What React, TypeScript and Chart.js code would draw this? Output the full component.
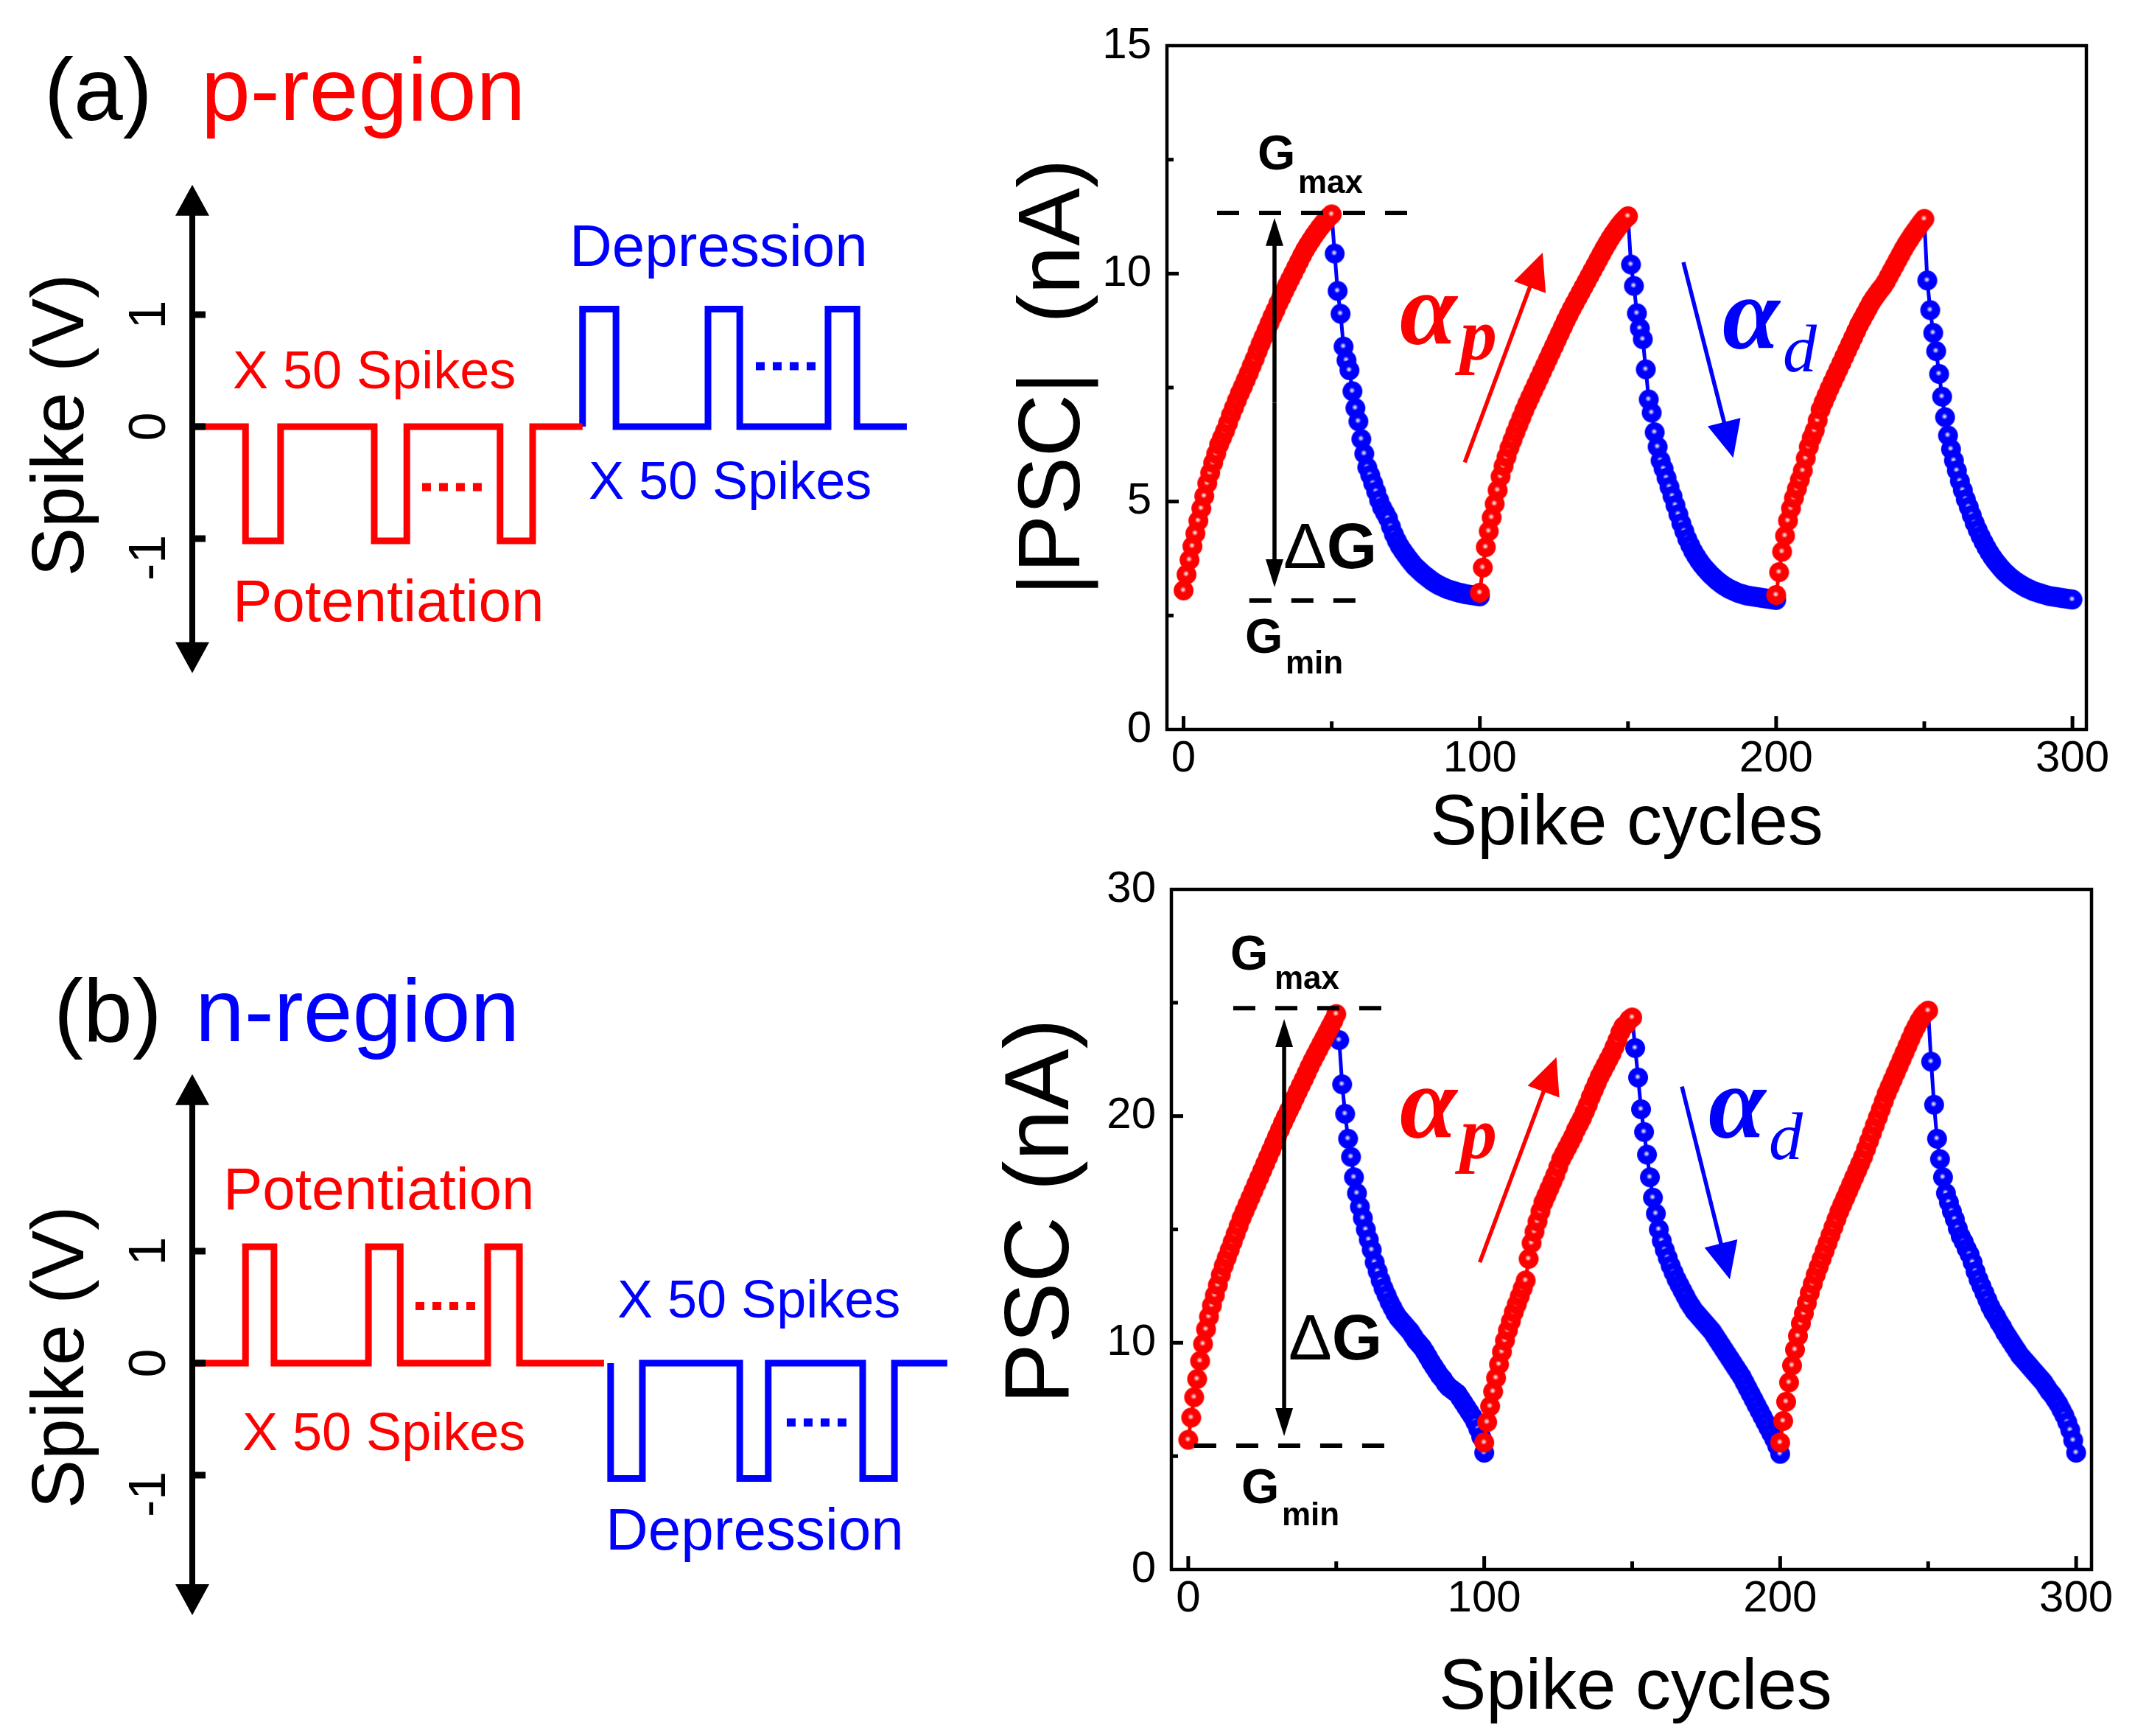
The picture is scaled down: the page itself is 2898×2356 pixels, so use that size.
import React, { useEffect, useRef } from 'react';
import { Chart, registerables } from 'chart.js';

Chart.register(...registerables);

const SANS = "'Liberation Sans', Arial, Helvetica, sans-serif";
const SERIF = "'Liberation Serif', 'Times New Roman', serif";
const RED = '#ff0000';
const BLUE = '#0000ff';

// ---------------- data: PSC vs spike cycles ----------------
const cycleStartX = [0, 50, 100, 150, 200, 250];

// p-region |PSC| (nA)
const pPot1 = [3.05,3.40,3.72,4.02,4.30,4.58,4.85,5.12,5.40,5.63,5.85,6.05,6.25,6.40,6.55,6.72,6.90,7.06,7.22,7.38,7.52,7.67,7.82,7.98,8.13,8.30,8.46,8.61,8.76,8.91,9.06,9.20,9.35,9.48,9.62,9.75,9.88,10.01,10.14,10.27,10.40,10.52,10.63,10.73,10.83,10.92,11.01,11.09,11.17,11.24,11.30];
const pDep1 = [11.30,10.44,9.62,9.12,8.40,8.10,7.88,7.42,7.05,6.76,6.37,6.05,5.75,5.58,5.40,5.22,5.03,4.87,4.75,4.63,4.45,4.28,4.14,4.02,3.92,3.83,3.74,3.66,3.58,3.52,3.46,3.40,3.35,3.30,3.25,3.21,3.17,3.14,3.11,3.08,3.06,3.04,3.02,3.00,2.99,2.97,2.96,2.95,2.94,2.93,2.92];
const pPot2 = [3.00,3.55,4.00,4.35,4.65,4.95,5.25,5.55,5.78,5.98,6.18,6.35,6.52,6.68,6.84,7.00,7.15,7.29,7.43,7.57,7.71,7.85,7.99,8.13,8.27,8.41,8.55,8.69,8.83,8.97,9.10,9.23,9.35,9.47,9.59,9.71,9.83,9.95,10.07,10.19,10.31,10.43,10.55,10.66,10.77,10.87,10.96,11.05,11.13,11.20,11.26];
const pDep2 = [11.26,10.20,9.73,9.13,8.80,8.56,7.90,7.24,6.95,6.52,6.20,5.90,5.72,5.52,5.32,5.12,4.92,4.72,4.52,4.35,4.18,4.04,3.91,3.80,3.70,3.61,3.53,3.46,3.39,3.33,3.27,3.22,3.17,3.13,3.09,3.06,3.03,3.00,2.98,2.96,2.94,2.93,2.92,2.91,2.90,2.89,2.88,2.87,2.86,2.85,2.84];
const pPot3 = [2.95,3.45,3.90,4.25,4.58,4.85,5.08,5.28,5.48,5.68,5.95,6.20,6.40,6.56,6.78,7.02,7.18,7.33,7.48,7.62,7.76,7.90,8.04,8.18,8.32,8.46,8.60,8.74,8.88,9.00,9.12,9.24,9.36,9.46,9.55,9.64,9.72,9.82,9.94,10.06,10.18,10.30,10.42,10.54,10.65,10.75,10.85,10.94,11.03,11.12,11.20];
const pDep3 = [11.20,9.85,9.20,8.70,8.30,7.80,7.30,6.85,6.45,6.15,5.90,5.68,5.45,5.25,5.05,4.88,4.70,4.53,4.38,4.24,4.11,3.99,3.88,3.78,3.69,3.61,3.53,3.46,3.40,3.34,3.29,3.24,3.20,3.16,3.12,3.09,3.06,3.03,3.01,2.99,2.97,2.95,2.93,2.92,2.91,2.90,2.89,2.88,2.87,2.86,2.85];

// n-region PSC (nA)
const nPot1 = [5.72,6.70,7.60,8.40,9.20,9.95,10.60,11.15,11.65,12.10,12.55,13.00,13.40,13.75,14.10,14.45,14.80,15.15,15.50,15.80,16.10,16.40,16.70,17.00,17.30,17.60,17.90,18.20,18.50,18.80,19.10,19.40,19.70,19.98,20.25,20.52,20.80,21.08,21.35,21.62,21.90,22.18,22.45,22.70,22.95,23.20,23.45,23.70,23.95,24.20,24.50];
const nDep1 = [24.50,23.35,21.40,20.10,19.00,18.20,17.30,16.60,16.00,15.50,15.00,14.55,14.10,13.55,13.15,12.75,12.40,12.10,11.80,11.55,11.30,11.10,10.95,10.80,10.65,10.50,10.30,10.10,9.95,9.80,9.60,9.38,9.15,8.95,8.75,8.55,8.40,8.20,8.05,7.95,7.85,7.75,7.55,7.35,7.15,6.95,6.75,6.50,6.20,5.85,5.15];
const nPot2 = [5.60,6.50,7.20,7.85,8.45,9.05,9.60,10.10,10.55,10.95,11.35,11.70,12.05,12.40,12.75,13.70,14.40,14.90,15.35,15.80,16.20,16.50,16.80,17.10,17.40,17.75,18.10,18.35,18.60,18.85,19.10,19.40,19.65,19.90,20.20,20.50,20.85,21.15,21.45,21.75,22.00,22.25,22.50,22.75,23.05,23.35,23.70,23.95,24.05,24.25,24.35];
const nDep2 = [24.35,23.00,21.70,20.30,19.30,18.30,17.30,16.40,15.70,15.00,14.50,14.10,13.75,13.40,13.10,12.80,12.55,12.30,12.05,11.80,11.60,11.40,11.25,11.10,10.95,10.80,10.65,10.50,10.30,10.10,9.90,9.70,9.50,9.30,9.10,8.90,8.70,8.50,8.25,8.00,7.75,7.50,7.25,7.00,6.75,6.50,6.25,6.00,5.75,5.45,5.10];
const nPot3 = [5.60,6.55,7.40,8.25,9.00,9.70,10.30,10.85,11.30,11.75,12.20,12.60,13.00,13.35,13.70,14.05,14.40,14.75,15.10,15.45,15.80,16.10,16.40,16.70,17.00,17.30,17.60,17.90,18.20,18.55,18.90,19.25,19.60,19.95,20.30,20.65,21.00,21.30,21.60,21.90,22.20,22.50,22.80,23.10,23.40,23.70,23.95,24.20,24.40,24.55,24.65];
const nDep3 = [24.65,22.40,20.50,19.00,18.10,17.30,16.60,16.20,15.80,15.45,15.05,14.70,14.45,14.15,13.90,13.55,13.15,12.80,12.50,12.20,11.90,11.60,11.35,11.15,10.90,10.70,10.45,10.25,10.05,9.85,9.65,9.45,9.30,9.15,9.00,8.85,8.70,8.55,8.40,8.25,8.05,7.85,7.70,7.50,7.30,7.05,6.80,6.50,6.15,5.70,5.15];

const xTickLabels = ['0', '100', '200', '300'];
const pYTickLabels = ['0', '5', '10', '15'];
const nYTickLabels = ['0', '10', '20', '30'];

// ---------------- data: spike waveforms (time a.u., volts) ----------------
const pRedT = [0.07, 1.29, 1.29, 2.14, 2.14, 4.41, 4.41, 5.20, 5.20, 7.46, 7.46, 8.25, 8.25, 9.46];
const pRedV = [0, 0, -1.02, -1.02, 0, 0, -1.02, -1.02, 0, 0, -1.02, -1.02, 0, 0];
const pBlueT = [9.46, 9.46, 10.27, 10.27, 12.50, 12.50, 13.27, 13.27, 15.41, 15.41, 16.11, 16.11, 17.32];
const pBlueV = [0, 1.05, 1.05, 0, 0, 1.05, 1.05, 0, 0, 1.05, 1.05, 0, 0];
const nRedT = [0.07, 1.29, 1.29, 1.98, 1.98, 4.27, 4.27, 5.04, 5.04, 7.16, 7.16, 7.93, 7.93, 9.98];
const nRedV = [0, 0, 1.04, 1.04, 0, 0, 1.04, 1.04, 0, 0, 1.04, 1.04, 0, 0];
const nBlueT = [10.14, 10.14, 10.91, 10.91, 13.27, 13.27, 13.96, 13.96, 16.25, 16.25, 17.02, 17.02, 18.30];
const nBlueV = [0, -1.03, -1.03, 0, 0, -1.03, -1.03, 0, 0, -1.03, -1.03, 0, 0];
const spikeTickValues = [1, 0, -1];
const spikeTickLabels = ['1', '0', '-1'];

// ---------------- helpers ----------------
function makeBall(color: string, light: string, r: number) {
  const s = Math.ceil(r * 2 + 2);
  const c = document.createElement('canvas');
  c.width = s; c.height = s;
  const g = c.getContext('2d') as CanvasRenderingContext2D;
  const cx = s / 2, cy = s / 2;
  g.fillStyle = color;
  g.beginPath(); g.arc(cx, cy, r, 0, Math.PI * 2); g.fill();
  const grad = g.createRadialGradient(cx - r * 0.05, cy - r * 0.08, 0, cx - r * 0.05, cy - r * 0.08, r * 0.32);
  grad.addColorStop(0, '#ffffff');
  grad.addColorStop(0.35, light);
  grad.addColorStop(1, color);
  g.fillStyle = grad;
  g.beginPath(); g.arc(cx - r * 0.05, cy - r * 0.08, r * 0.32, 0, Math.PI * 2); g.fill();
  return c;
}

function drawArrow(ctx: any, x1: number, y1: number, x2: number, y2: number, head: number, half: number, lw: number, color: string) {
  const ang = Math.atan2(y2 - y1, x2 - x1);
  const bx = x2 - head * Math.cos(ang), by = y2 - head * Math.sin(ang);
  ctx.strokeStyle = color; ctx.lineWidth = lw; ctx.lineCap = 'butt';
  ctx.beginPath(); ctx.moveTo(x1, y1); ctx.lineTo(bx + 2 * Math.cos(ang), by + 2 * Math.sin(ang)); ctx.stroke();
  ctx.fillStyle = color; ctx.beginPath(); ctx.moveTo(x2, y2);
  ctx.lineTo(bx + half * Math.sin(ang), by - half * Math.cos(ang));
  ctx.lineTo(bx - half * Math.sin(ang), by + half * Math.cos(ang));
  ctx.closePath(); ctx.fill();
}

type TextItem = { s: string; x: number; y: number; font: string; color: string; align?: string; rot?: boolean };

function drawTexts(ctx: any, texts: TextItem[], offX: number, offY: number) {
  texts.forEach((t) => {
    ctx.save();
    ctx.font = t.font; ctx.fillStyle = t.color;
    ctx.textAlign = t.align || 'left';
    ctx.textBaseline = 'alphabetic';
    if (t.rot) {
      ctx.translate(t.x - offX, t.y - offY);
      ctx.rotate(-Math.PI / 2);
      ctx.textAlign = 'center';
      ctx.fillText(t.s, 0, 0);
    } else {
      ctx.fillText(t.s, t.x - offX, t.y - offY);
    }
    ctx.restore();
  });
}

const toPts = (start: number, vals: number[]) => vals.map((v, i) => ({ x: start + i, y: v }));

function makePscChart(canvas: HTMLCanvasElement, cfg: any) {
  const redBall = makeBall(RED, '#ffb0b0', 13.5);
  const blueBall = makeBall(BLUE, '#b0b0ff', 13.5);
  const datasets: any[] = [];
  cfg.segments.forEach((vals: number[], k: number) => {
    const isDep = k % 2 === 1;
    datasets.push({
      data: toPts(cycleStartX[k], vals),
      borderColor: isDep ? BLUE : RED,
      backgroundColor: isDep ? BLUE : RED,
      borderWidth: 5,
      pointStyle: isDep ? blueBall : redBall,
      pointRadius: vals.map((_, i) => (isDep && i === 0 ? 0 : 13)),
      tension: 0,
      order: isDep ? 1 : 0,
    });
  });

  const decor = {
    id: 'pscDecor',
    afterDatasetsDraw(chart: any) {
      const ctx = chart.ctx;
      const a = chart.chartArea;
      const xs = chart.scales.x, ys = chart.scales.y;
      const ann = cfg.ann;
      ctx.save();
      // annotations
      ctx.strokeStyle = '#000'; ctx.lineWidth = 6; ctx.setLineDash([30, 27]);
      [[ann.gmaxY, ann.gmaxX], [ann.gminY, ann.gminX]].forEach(([yv, xr]: any) => {
        const y = ys.getPixelForValue(yv);
        ctx.beginPath(); ctx.moveTo(xs.getPixelForValue(xr[0]), y); ctx.lineTo(xs.getPixelForValue(xr[1]), y); ctx.stroke();
      });
      ctx.setLineDash([]);
      const dx = xs.getPixelForValue(ann.dblX);
      const dTop = ys.getPixelForValue(ann.dblTop), dBot = ys.getPixelForValue(ann.dblBot);
      const mid = (dTop + dBot) / 2;
      drawArrow(ctx, dx, mid, dx, dTop, 38, 12, 5.5, '#000');
      drawArrow(ctx, dx, mid, dx, dBot, 38, 12, 5.5, '#000');
      const ra = ann.redArrow, ba = ann.blueArrow;
      drawArrow(ctx, xs.getPixelForValue(ra[0]), ys.getPixelForValue(ra[1]), xs.getPixelForValue(ra[2]), ys.getPixelForValue(ra[3]), 50, 23, 5.5, RED);
      drawArrow(ctx, xs.getPixelForValue(ba[0]), ys.getPixelForValue(ba[1]), xs.getPixelForValue(ba[2]), ys.getPixelForValue(ba[3]), 50, 23, 5.5, BLUE);
      // frame
      ctx.strokeStyle = '#000'; ctx.lineWidth = 4.5;
      ctx.strokeRect(a.left, a.top, a.right - a.left, a.bottom - a.top);
      // inward ticks
      ctx.lineWidth = 5;
      ys.ticks.forEach((t: any) => {
        if (t.value <= ys.min || t.value >= ys.max) return;
        const p = ys.getPixelForValue(t.value);
        const len = t.value % cfg.yLabelStep === 0 ? 16 : 9;
        ctx.beginPath(); ctx.moveTo(a.left, p); ctx.lineTo(a.left + len, p); ctx.stroke();
      });
      xs.ticks.forEach((t: any) => {
        const p = xs.getPixelForValue(t.value);
        const len = t.value % 100 === 0 ? 18 : 11;
        ctx.beginPath(); ctx.moveTo(p, a.bottom); ctx.lineTo(p, a.bottom - len); ctx.stroke();
      });
      // texts
      drawTexts(ctx, cfg.texts, cfg.offX, cfg.offY);
      // delta G (regular delta, bold G)
      ctx.fillStyle = '#000'; ctx.textBaseline = 'alphabetic'; ctx.textAlign = 'left';
      ctx.font = `88px ${SANS}`;
      const dgx = cfg.dG[0] - cfg.offX, dgy = cfg.dG[1] - cfg.offY;
      ctx.fillText('\u0394', dgx, dgy);
      const w = ctx.measureText('\u0394').width;
      ctx.font = `bold 88px ${SANS}`;
      ctx.fillText('G', dgx + w, dgy);
      ctx.restore();
    },
  };

  return new Chart(canvas, {
    type: 'line',
    data: { datasets },
    options: {
      animation: false,
      responsive: false,
      devicePixelRatio: 1,
      events: [],
      layout: { padding: { left: 0, right: cfg.padR, top: cfg.padT, bottom: 0 } },
      plugins: { legend: { display: false }, tooltip: { enabled: false } },
      scales: {
        x: {
          type: 'linear', min: cfg.xMin, max: cfg.xMax,
          afterFit: (s: any) => { s.height = cfg.xH; },
          grid: { display: false, drawTicks: false }, border: { display: false },
          ticks: {
            stepSize: 50, includeBounds: false, autoSkip: false, maxRotation: 0, minRotation: 0, padding: 4,
            color: '#000', font: { family: SANS, size: 60 },
            callback: (v: any) => { const i = xTickLabels.indexOf(String(v)); return i >= 0 ? xTickLabels[i] : ''; },
          },
        },
        y: {
          type: 'linear', min: 0, max: cfg.yMax,
          afterFit: (s: any) => { s.width = cfg.yW; },
          grid: { display: false, drawTicks: false }, border: { display: false },
          ticks: {
            stepSize: cfg.yStep, autoSkip: false, padding: 21,
            color: '#000', font: { family: SANS, size: 60 },
            callback: (v: any) => { const i = cfg.yLabels.indexOf(String(v)); return i >= 0 ? cfg.yLabels[i] : ''; },
          },
        },
      },
    } as any,
    plugins: [decor as any],
  });
}

function makePulseChart(canvas: HTMLCanvasElement, cfg: any) {
  const decor = {
    id: 'pulseDecor',
    afterDatasetsDraw(chart: any) {
      const ctx = chart.ctx;
      const xs = chart.scales.x, ys = chart.scales.y;
      ctx.save();
      const ax = xs.getPixelForValue(0);
      const yTop = ys.getPixelForValue(cfg.axisTop), yBot = ys.getPixelForValue(cfg.axisBottom);
      const midY = ys.getPixelForValue(0);
      drawArrow(ctx, ax, midY, ax, yTop, 42, 23, 8, '#000');
      drawArrow(ctx, ax, midY, ax, yBot, 42, 23, 8, '#000');
      ctx.strokeStyle = '#000'; ctx.lineWidth = 9;
      spikeTickValues.forEach((v, i) => {
        const p = ys.getPixelForValue(v);
        ctx.beginPath(); ctx.moveTo(ax - 4, p); ctx.lineTo(ax + 18, p); ctx.stroke();
        ctx.save();
        ctx.font = `70px ${SANS}`; ctx.fillStyle = '#000';
        ctx.textAlign = 'center'; ctx.textBaseline = 'middle';
        ctx.translate(205, p + (v < 0 ? 26 : 0));
        ctx.rotate(-Math.PI / 2);
        ctx.fillText(spikeTickLabels[i], 0, 0);
        ctx.restore();
      });
      // "...." markers
      cfg.dots.forEach((d: any) => {
        const x0 = xs.getPixelForValue(d.t), y0 = ys.getPixelForValue(d.v);
        ctx.fillStyle = d.color;
        for (let k = 0; k < 4; k++) ctx.fillRect(x0 + k * 23, y0 - 5.5, 12, 11);
      });
      drawTexts(ctx, cfg.texts, 0, cfg.offY);
      ctx.restore();
    },
  };
  const datasets = cfg.waves.map((w: any) => ({
    data: w.t.map((t: number, i: number) => ({ x: t, y: w.v[i] })),
    borderColor: w.color, borderWidth: 9, pointRadius: 0, tension: 0,
    borderJoinStyle: 'miter', borderCapStyle: 'butt', fill: false,
  }));
  return new Chart(canvas, {
    type: 'line',
    data: { datasets },
    options: {
      animation: false, responsive: false, devicePixelRatio: 1, events: [],
      layout: { padding: { left: 261, right: 3, top: cfg.padT, bottom: cfg.padB } },
      plugins: { legend: { display: false }, tooltip: { enabled: false } },
      scales: {
        x: { type: 'linear', display: false, min: 0, max: 18.5 },
        y: { type: 'linear', display: false, min: cfg.yMin, max: cfg.yMax },
      },
    } as any,
    plugins: [decor as any],
  });
}

const f = (px: number, extra = '') => `${extra} ${px}px ${SANS}`.trim();

export default function App() {
  const tl = useRef<HTMLCanvasElement>(null);
  const bl = useRef<HTMLCanvasElement>(null);
  const tr = useRef<HTMLCanvasElement>(null);
  const br = useRef<HTMLCanvasElement>(null);

  useEffect(() => {
    const charts: Chart[] = [];
    charts.push(makePulseChart(tl.current as HTMLCanvasElement, {
      offY: 0, yMin: -2.3, yMax: 2.3, padT: 229.4, padB: 221.4, axisTop: 2.16, axisBottom: -2.2,
      waves: [{ t: pRedT, v: pRedV, color: RED }, { t: pBlueT, v: pBlueV, color: BLUE }],
      dots: [{ t: 5.57, v: -0.54, color: RED }, { t: 13.66, v: 0.54, color: BLUE }],
      texts: [
        { s: '(a)', x: 60, y: 163, font: f(120), color: '#000' },
        { s: 'p-region', x: 273, y: 163, font: f(120), color: RED },
        { s: 'Spike (V)', x: 113, y: 577, font: f(100), color: '#000', rot: true },
        { s: 'X 50 Spikes', x: 316, y: 527, font: f(72), color: RED },
        { s: 'Potentiation', x: 316, y: 843, font: f(80), color: RED },
        { s: 'Depression', x: 773, y: 361, font: f(80), color: BLUE },
        { s: 'X 50 Spikes', x: 799, y: 677, font: f(72), color: BLUE },
      ],
    }));
    charts.push(makePulseChart(bl.current as HTMLCanvasElement, {
      offY: 1150, yMin: -2.4, yMax: 2.7, padT: 289.6, padB: 141.2, axisTop: 2.58, axisBottom: -2.25,
      waves: [{ t: nRedT, v: nRedV, color: RED }, { t: nBlueT, v: nBlueV, color: BLUE }],
      dots: [{ t: 5.41, v: 0.51, color: RED }, { t: 14.41, v: -0.53, color: BLUE }],
      texts: [
        { s: '(b)', x: 73, y: 1413, font: f(120), color: '#000' },
        { s: 'n-region', x: 265, y: 1413, font: f(120), color: BLUE },
        { s: 'Spike (V)', x: 113, y: 1842, font: f(100), color: '#000', rot: true },
        { s: 'Potentiation', x: 303, y: 1641, font: f(80), color: RED },
        { s: 'X 50 Spikes', x: 329, y: 1968, font: f(72), color: RED },
        { s: 'X 50 Spikes', x: 838, y: 1788, font: f(72), color: BLUE },
        { s: 'Depression', x: 822, y: 2103, font: f(80), color: BLUE },
      ],
    }));
    charts.push(makePscChart(tr.current as HTMLCanvasElement, {
      offX: 1300, offY: 0, padR: 66, padT: 62, xH: 200, yW: 284,
      xMin: -5.6, xMax: 304.7, yMax: 15, yStep: 2.5, yLabelStep: 5, yLabels: pYTickLabels,
      segments: [pPot1, pDep1, pPot2, pDep2, pPot3, pDep3],
      ann: {
        gmaxY: 11.33, gmaxX: [11.3, 75.5], gminY: 2.83, gminX: [22.2, 58.3],
        dblX: 30.7, dblTop: 11.22, dblBot: 3.12,
        redArrow: [94.9, 5.86, 121.2, 10.46], blueArrow: [168.7, 10.25, 185.5, 5.96],
      },
      dG: [1742, 771],
      texts: [
        { s: '|PSC|  (nA)', x: 1465, y: 512, font: f(118), color: '#000', rot: true },
        { s: 'Spike cycles', x: 2208, y: 1146, font: f(96), color: '#000', align: 'center' },
        { s: 'G', x: 1707, y: 230, font: f(66, 'bold'), color: '#000' },
        { s: 'max', x: 1762, y: 262, font: f(44, 'bold'), color: '#000' },
        { s: 'G', x: 1690, y: 886, font: f(66, 'bold'), color: '#000' },
        { s: 'min', x: 1745, y: 914, font: f(44, 'bold'), color: '#000' },
        { s: '\u03B1', x: 1900, y: 467, font: `italic bold 140px ${SERIF}`, color: RED },
        { s: 'p', x: 1982, y: 488, font: `italic bold 100px ${SERIF}`, color: RED },
        { s: '\u03B1', x: 2338, y: 473, font: `italic bold 140px ${SERIF}`, color: BLUE },
        { s: 'd', x: 2420, y: 504, font: `italic 92px ${SERIF}`, color: BLUE },
      ],
    }));
    charts.push(makePscChart(br.current as HTMLCanvasElement, {
      offX: 1300, offY: 1150, padR: 59, padT: 52, xH: 226, yW: 290,
      xMin: -5.7, xMax: 305.2, yMax: 30, yStep: 5, yLabelStep: 10, yLabels: nYTickLabels,
      segments: [nPot1, nDep1, nPot2, nDep2, nPot3, nDep3],
      ann: {
        gmaxY: 24.76, gmaxX: [15.2, 65.9], gminY: 5.46, gminX: [2.0, 66.5],
        dblX: 32.4, dblTop: 24.28, dblBot: 5.88,
        redArrow: [98.5, 13.55, 124.4, 22.6], blueArrow: [166.8, 21.3, 183.0, 12.8],
      },
      dG: [1749, 1845],
      texts: [
        { s: 'PSC (nA)', x: 1450, y: 1644, font: f(124), color: '#000', rot: true },
        { s: 'Spike cycles', x: 2220, y: 2319, font: f(96), color: '#000', align: 'center' },
        { s: 'G', x: 1670, y: 1316, font: f(66, 'bold'), color: '#000' },
        { s: 'max', x: 1730, y: 1342, font: f(44, 'bold'), color: '#000' },
        { s: 'G', x: 1685, y: 2040, font: f(66, 'bold'), color: '#000' },
        { s: 'min', x: 1740, y: 2070, font: f(44, 'bold'), color: '#000' },
        { s: '\u03B1', x: 1900, y: 1544, font: `italic bold 140px ${SERIF}`, color: RED },
        { s: 'p', x: 1982, y: 1572, font: `italic bold 100px ${SERIF}`, color: RED },
        { s: '\u03B1', x: 2319, y: 1544, font: `italic bold 140px ${SERIF}`, color: BLUE },
        { s: 'd', x: 2401, y: 1573, font: `italic 92px ${SERIF}`, color: BLUE },
      ],
    }));
    return () => { charts.forEach((c) => c.destroy()); };
  }, []);

  const cs = (l: number, t: number): React.CSSProperties => ({ position: 'absolute', left: l, top: t, display: 'block' });
  return (
    <div style={{ position: 'absolute', left: 0, top: 0, width: 2898, height: 2356, background: '#fff', overflow: 'hidden' }}>
      <canvas ref={tl} width={1300} height={1150} style={cs(0, 0)} />
      <canvas ref={bl} width={1300} height={1206} style={cs(0, 1150)} />
      <canvas ref={tr} width={1598} height={1190} style={cs(1300, 0)} />
      <canvas ref={br} width={1598} height={1206} style={cs(1300, 1150)} />
    </div>
  );
}
